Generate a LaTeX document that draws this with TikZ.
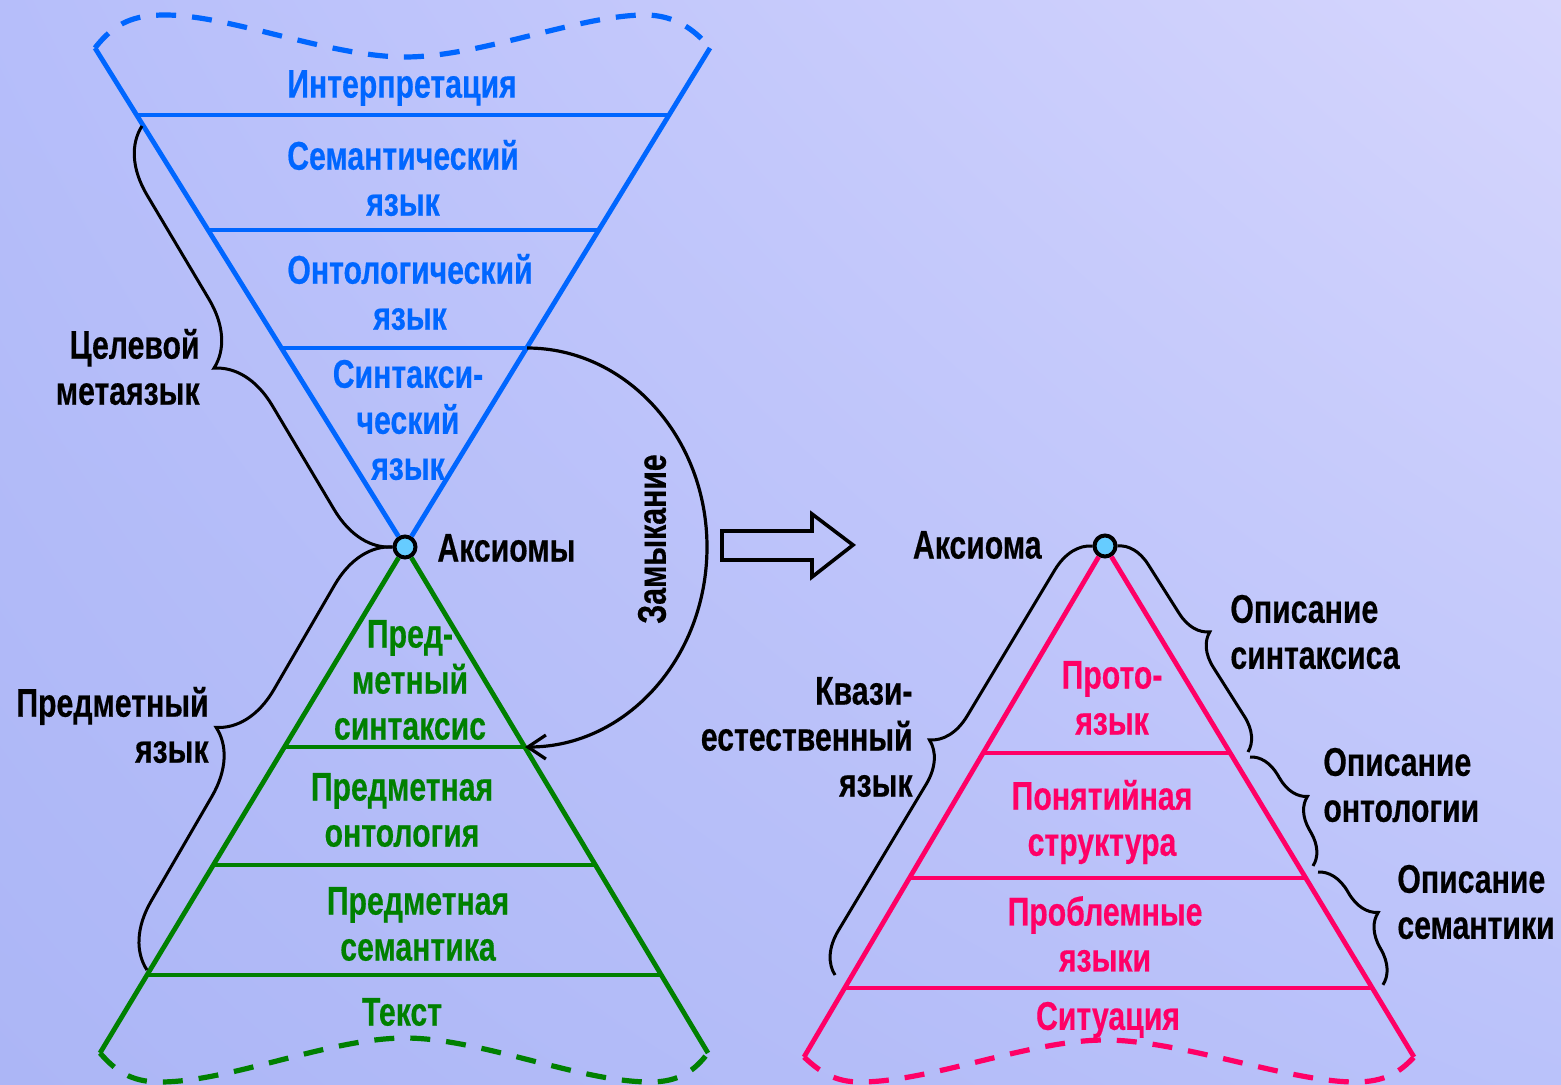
\documentclass[tikz,border=0pt]{standalone}
\usepackage{fontspec}
\setmainfont[FakeStretch=0.755, BoldFeatures={FakeBold=0.4}]{Liberation Sans}
\usetikzlibrary{arrows.meta,decorations.pathreplacing,shadings}

\definecolor{lvlblue}{RGB}{0,102,255}
\definecolor{lvlgreen}{RGB}{0,128,0}
\definecolor{lvlpink}{RGB}{255,0,102}
\definecolor{axcyan}{RGB}{102,204,255}
\definecolor{bgul}{RGB}{182,190,250}
\definecolor{bgur}{RGB}{214,214,253}
\definecolor{bgll}{RGB}{172,182,246}
\definecolor{bglr}{RGB}{186,194,250}

\tikzset{
  lbl/.style={font=\fontsize{20}{23}\selectfont\bfseries, align=center, inner sep=0pt},
  side/.style={line width=2.4pt},
  wave/.style={line width=2.6pt, dash pattern=on 10pt off 8pt},
  axiom/.style={circle, draw=black, fill=axcyan, line width=2pt, minimum size=10.5pt, inner sep=0pt},
  curly/.style={decorate, decoration={brace, amplitude=#1}, line width=1.5pt},
  curlym/.style={decorate, decoration={brace, mirror, amplitude=#1}, line width=1.5pt},
}

\begin{document}
\begin{tikzpicture}[x=0.5pt, y=-0.5pt]
\useasboundingbox (0,0) rectangle (1561,1085);
\shade[upper left=bgul, upper right=bgur, lower left=bgll, lower right=bglr] (0,0) rectangle (1561,1085);

\node[axiom] (ax) at (405,547) {};
\node[axiom] (axp) at (1105,546) {};

% upper funnel
\coordinate (b0l) at (95,48);   \coordinate (b0r) at (710,48);
\coordinate (b1l) at (137,115); \coordinate (b1r) at (669,115);
\coordinate (b2l) at (208,230); \coordinate (b2r) at (599,230);
\coordinate (b3l) at (281,348); \coordinate (b3r) at (527,348);
\draw[side, lvlblue] (b0l) -- (ax) -- (b0r);
\draw[side, lvlblue] (b1l) -- (b1r) (b2l) -- (b2r) (b3l) -- (b3r);
\draw[wave, lvlblue] (b0l) .. controls (115,22) and (135,15) .. (165,15)
  .. controls (230,15) and (330,57) .. (405,57)
  .. controls (480,57) and (580,15) .. (645,15)
  .. controls (675,15) and (695,30) .. (b0r);

% lower pyramid
\coordinate (g1l) at (284,747); \coordinate (g1r) at (525,747);
\coordinate (g2l) at (213,865); \coordinate (g2r) at (595,865);
\coordinate (g3l) at (147,975); \coordinate (g3r) at (661,975);
\coordinate (g0l) at (100,1053); \coordinate (g0r) at (708,1053);
\draw[side, lvlgreen] (g0l) -- (ax) -- (g0r);
\draw[side, lvlgreen] (g1l) -- (g1r) (g2l) -- (g2r) (g3l) -- (g3r);
\draw[wave, lvlgreen] (g0l) .. controls (115,1070) and (130,1082) .. (160,1082)
  .. controls (230,1082) and (330,1038) .. (405,1038)
  .. controls (480,1038) and (580,1082) .. (650,1082)
  .. controls (680,1082) and (695,1070) .. (g0r);

% right pyramid
\coordinate (p1l) at (983,753); \coordinate (p1r) at (1230,753);
\coordinate (p2l) at (910,878); \coordinate (p2r) at (1306,878);
\coordinate (p3l) at (845,988); \coordinate (p3r) at (1372,988);
\coordinate (p0l) at (804,1057); \coordinate (p0r) at (1414,1057);
\draw[side, lvlpink] (p0l) -- (axp) -- (p0r);
\draw[side, lvlpink] (p1l) -- (p1r) (p2l) -- (p2r) (p3l) -- (p3r);
\draw[wave, lvlpink] (p0l) .. controls (820,1072) and (835,1082) .. (860,1082)
  .. controls (930,1082) and (1030,1040) .. (1105,1040)
  .. controls (1180,1040) and (1290,1082) .. (1355,1082)
  .. controls (1385,1082) and (1400,1072) .. (p0r);

% closure and transition
\draw[line width=1.6pt, -{Straight Barb[length=9pt, width=12pt]}] (b3r)
  .. controls (626,348) and (707,437) .. (707,547)
  .. controls (707,658) and (626,747) .. (g1r);
\draw[line width=1.8pt] (722,531) -- (812,531) -- (812,514) -- (853,545)
  -- (812,577) -- (812,560) -- (722,560) -- cycle;

% braces
\coordinate (tg0) at (142,126);
\coordinate (sb1) at (147,970);
\coordinate (qs1) at (835,975);
\coordinate (ds1) at (1248,752);
\coordinate (do0) at (1250,757); \coordinate (do1) at (1313,866);
\coordinate (dm0) at (1318,872); \coordinate (dm1) at (1383,985);
\draw[curlym=31pt] (tg0) -- (ax.west);
\draw[curlym=31pt] (ax.west) -- (sb1);
\draw[curlym=20pt] (axp.west) -- (qs1);
\draw[curly=16pt] (axp.east) -- (ds1);
\draw[curly=15pt] (do0) -- (do1);
\draw[curly=16pt] (dm0) -- (dm1);

% level labels
\node[lbl, lvlblue] (interp) at (402,88) {Интерпретация};
\node[lbl, lvlblue] (semlang) at (403,178) {Семантический\\язык};
\node[lbl, lvlblue] (ontlang) at (410,292) {Онтологический\\язык};
\node[lbl, lvlblue] (synlang) at (408,420) {Синтакси-\\ческий\\язык};
\node[lbl, lvlgreen] (subsyn) at (410,680) {Пред-\\метный\\синтаксис};
\node[lbl, lvlgreen] (subont) at (402,810) {Предметная\\онтология};
\node[lbl, lvlgreen] (subsem) at (418,924) {Предметная\\семантика};
\node[lbl, lvlgreen] (text) at (402,1012) {Текст};
\node[lbl, lvlpink] (proto) at (1112,698) {Прото-\\язык};
\node[lbl, lvlpink] (concept) at (1102,822) {Понятийная\\структура};
\node[lbl, lvlpink] (problang) at (1105,934) {Проблемные\\языки};
\node[lbl, lvlpink] (situation) at (1108,1020) {Ситуация};

% side labels
\node[lbl, align=right, anchor=east] (target) at (200,367) {Целевой\\метаязык};
\node[lbl, align=right, anchor=east] (subject) at (209,725) {Предметный\\язык};
\node[lbl, align=right, anchor=east] (quasi) at (913,737) {Квази-\\естественный\\язык};
\node[lbl, align=left, anchor=west] (dsyn) at (1230,632) {Описание\\синтаксиса};
\node[lbl, align=left, anchor=west] (dont) at (1323,785) {Описание\\онтологии};
\node[lbl, align=left, anchor=west] (dsem) at (1397,902) {Описание\\семантики};
\node[lbl, anchor=west] (axioms) at (437,548) {Аксиомы};
\node[lbl, anchor=east] (axiom) at (1042,545) {Аксиома};
\node[lbl, rotate=90] (closure) at (652,539) {Замыкание};
\end{tikzpicture}
\end{document}
